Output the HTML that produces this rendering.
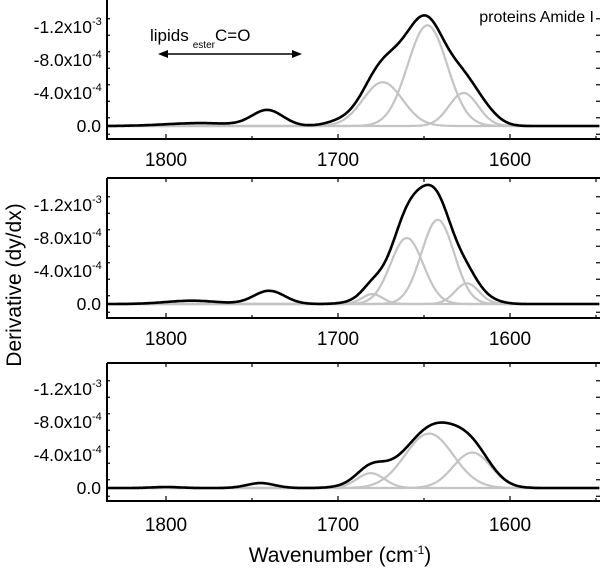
<!DOCTYPE html>
<html><head><meta charset="utf-8"><style>
body{margin:0;background:#fff;width:600px;height:571px;overflow:hidden}
svg{font-family:"Liberation Sans",Arial,sans-serif}
</style></head><body>
<svg id="c" width="600" height="571"></svg>
<script>
// Data: Gaussian components [center cm-1, amplitude (x1e-4), sigma cm-1]
const xTicks=[1800,1700,1600];
const yTicks=[0,4,8,12];
const yTickLabels=["0.0","-4.0x10","-8.0x10","-1.2x10"];
const yTickExp=["","-4","-4","-3"];
const p1Comps=[[1674,5.3,11.5],[1648,12.2,11.5],[1627,4.0,8.5],[1741,1.9,9],[1780,0.35,20]];
const p1Extra=[[1674,1.6,11],[1660,1.0,9],[1615,1.5,8],[1700,0.4,8]];
const p2Comps=[[1680,1.2,6],[1660,8.0,9.5],[1642,10.2,9.5],[1625,2.5,7],[1740,1.6,9],[1785,0.4,15]];
const p2Extra=[[1652,2.6,12],[1680,0.8,10],[1615,0.6,8]];
const p3Comps=[[1681,1.8,8],[1647,6.6,14],[1622,4.3,11],[1745,0.6,8],[1800,0.12,8]];
const p3Extra=[[1635,1.1,10],[1670,0.9,10],[1688,0.4,10]];
const p1Grey=[0,1,2], p2Grey=[0,1,2,3], p3Grey=[0,1,2];

const NS="http://www.w3.org/2000/svg";
const svg=document.getElementById('c');
function el(t,a,p){const e=document.createElementNS(NS,t);for(const k in a)e.setAttribute(k,a[k]);(p||svg).appendChild(e);return e;}
const L=107,R=600;
const xs=v=>166+(1800-v)*1.72;
const panels=[
 {top:0,bot:139,zero:126,comps:p1Comps,grey:p1Grey,extra:p1Extra,lab:158},
 {top:178,bot:318,zero:304,comps:p2Comps,grey:p2Grey,extra:p2Extra,lab:337},
 {top:363,bot:501,zero:488,comps:p3Comps,grey:p3Grey,extra:p3Extra,lab:523}
];
const g=(x,c)=>c[1]*Math.exp(-((x-c[0])**2)/(2*c[2]*c[2]));
panels.forEach((P,pi)=>{
 const ys=v=>P.zero-v*8.25;
 const grp=el('g',{});
 
 
 P.grey.forEach(i=>{
  const c=P.comps[i];let d='';
  for(let x=1834;x>=1548;x-=0.5)d+=(d?'L':'M')+xs(x).toFixed(1)+','+ys(g(x,c)).toFixed(1);
  const p=el('path',{d:d,fill:'none',stroke:'#c4c4c4','stroke-width':2.2},grp);
  
  
 });
 let d='';
 for(let x=1834;x>=1548;x-=0.5){let s=0;P.comps.forEach(c=>s+=g(x,c));P.extra.forEach(c=>s+=g(x,c));d+=(d?'L':'M')+xs(x).toFixed(1)+','+ys(s).toFixed(1);}
 const tl=el('path',{d:d,fill:'none',stroke:'#000','stroke-width':2.6},grp);
 
 
 const fr=el('path',{d:`M${L},${P.top}V${P.bot}H${R}`,fill:'none',stroke:'#000','stroke-width':2},grp);
 
 
 if(pi>0)el('line',{x1:L,y1:P.top,x2:R,y2:P.top,stroke:'#000','stroke-width':2},grp);
 for(let v=1550;v<=1830;v+=50){
  const x=xs(v);
  el('line',{x1:x,y1:P.bot,x2:x,y2:P.bot-(v%100?3:5),stroke:'#000','stroke-width':1.2},grp);
  if(pi>0)el('line',{x1:x,y1:P.top,x2:x,y2:P.top+4,stroke:'#000','stroke-width':1.2},grp);
 }
 xTicks.forEach(v=>{const t=el('text',{x:xs(v),y:P.lab+8,'font-size':19,'text-anchor':'middle'},grp);t.textContent=v;
  });
 for(let v=-1;v<=14;v+=2){const y=ys(v);if(y<P.top+2||y>P.bot-2)continue;
  el('line',{x1:L,y1:y,x2:L+(v%4?3:5),y2:y,stroke:'#000','stroke-width':1.2},grp);
  el('line',{x1:R,y1:y,x2:R-4,y2:y,stroke:'#000','stroke-width':1.2},grp);}
 yTicks.forEach((v,i)=>{const y=ys(v);
  const t=el('text',{x:yTickExp[i]?92:101,y:y+6,'font-size':17.5,'text-anchor':'end'},grp);
  t.textContent=yTickLabels[i];
  
  if(yTickExp[i]){const s=el('text',{x:92,y:y-2,'font-size':11},grp);s.textContent=yTickExp[i];}
 });
});
const yl=el('text',{x:0,y:0,'font-size':21,'text-anchor':'middle',transform:'translate(21,285) rotate(-90)'});
yl.textContent='Derivative (dy/dx)';

const xl=el('text',{x:340,y:562,'font-size':21,'text-anchor':'middle'});
xl.innerHTML='Wavenumber (cm<tspan dy="-8" font-size="12">-1</tspan><tspan dy="8">)</tspan>';

const pa=el('text',{x:594,y:22,'font-size':16,'text-anchor':'end'});
pa.textContent='proteins Amide I';

const la=el('text',{x:150,y:41,'font-size':17});
la.innerHTML='lipids<tspan dx="4" dy="7" font-size="10">ester</tspan><tspan dy="-7">C=O</tspan>';

const ar=el('g',{});

el('line',{x1:162,y1:54,x2:298,y2:54,stroke:'#000','stroke-width':1.5},ar);
el('path',{d:'M158,54L168,50L168,58Z',fill:'#000'},ar);
el('path',{d:'M302,54L292,50L292,58Z',fill:'#000'},ar);
</script>
</body></html>
